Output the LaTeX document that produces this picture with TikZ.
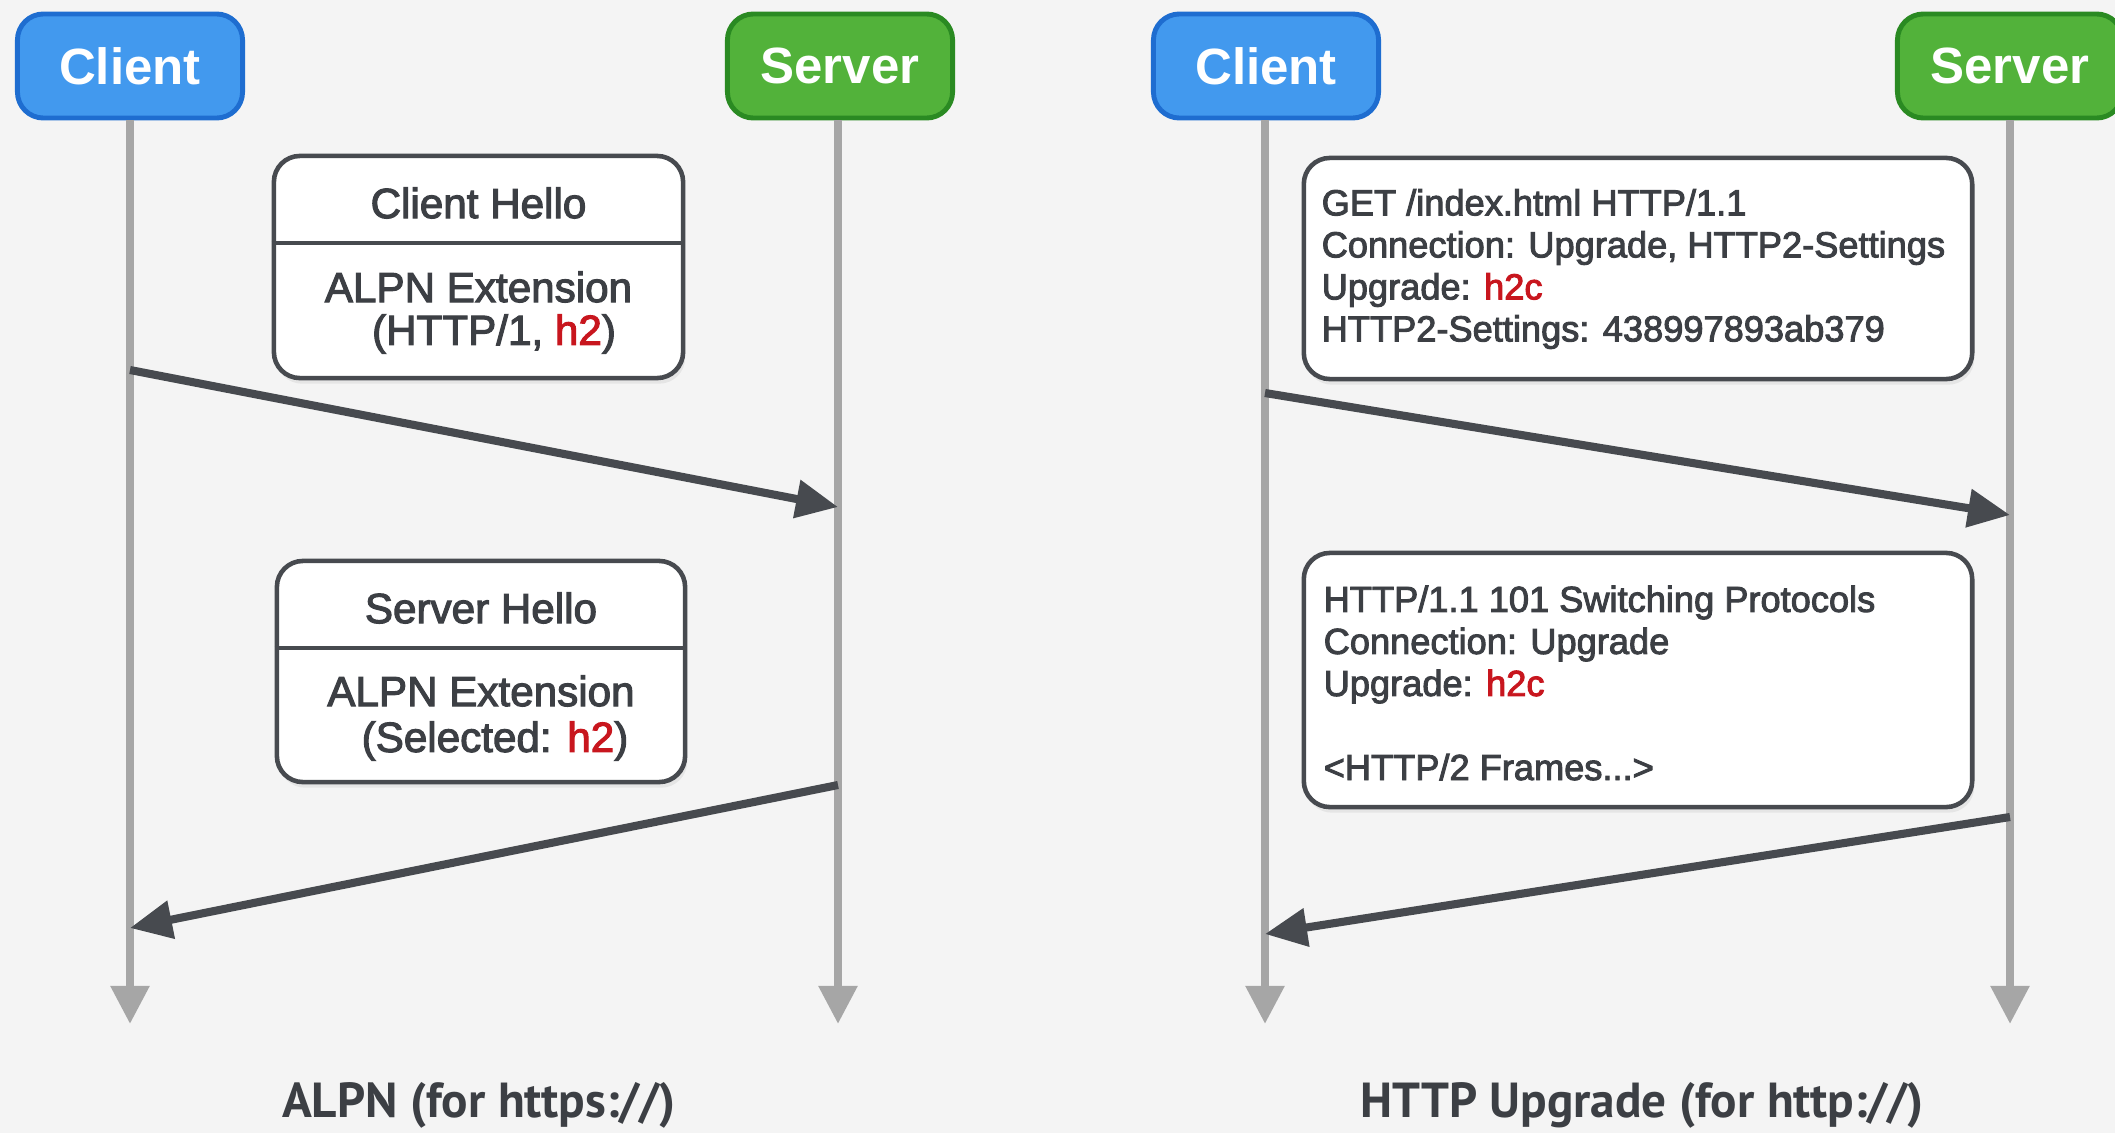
\documentclass[tikz,border=0pt]{standalone}
\usepackage{fontspec}
\setmainfont{Liberation Sans}
\newfontfamily\boxfont[FakeBold=2.6]{Liberation Sans}
\newfontfamily\capfont{PT Sans}
\usetikzlibrary{arrows.meta,shadows}
\definecolor{bg}{HTML}{F4F4F4}
\definecolor{clientfill}{HTML}{4299EE}
\definecolor{clientline}{HTML}{1E6DD0}
\definecolor{serverfill}{HTML}{52B23A}
\definecolor{serverline}{HTML}{2A8A22}
\definecolor{lifegrey}{HTML}{A6A6A6}
\definecolor{msgline}{HTML}{474A4F}
\definecolor{boxtext}{HTML}{3C3F44}
\definecolor{hred}{HTML}{C8161E}
\newcommand\redtxt[1]{\textcolor{hred}{#1}}
\begin{document}
\begin{tikzpicture}[x=0.01cm,y=-0.01cm,
  actor/.style={rounded corners=0.26cm, line width=1.4pt, minimum width=2.25cm,
    minimum height=1.04cm, text=white, font=\fontsize{14.5}{16}\selectfont\bfseries},
  clientbox/.style={actor, fill=clientfill, draw=clientline},
  serverbox/.style={actor, fill=serverfill, draw=serverline},
  life/.style={draw=lifegrey, line width=2.4pt, -{Triangle[length=0.38cm,width=0.37cm]}},
  msg/.style={draw=msgline, line width=2.3pt, -{Triangle[length=0.42cm,width=0.37cm]}},
  msgbox/.style={draw=msgline, line width=1.3pt, fill=white, rounded corners=0.26cm,
    drop shadow={opacity=0.12, shadow xshift=0.6pt, shadow yshift=-1.6pt}},
  lefttext/.style={text=boxtext, font=\boxfont\fontsize{12}{13.4}\selectfont, inner sep=0pt},
  righttext/.style={text=boxtext, font=\boxfont\fontsize{10.3}{11.95}\selectfont, inner sep=0pt, align=left},
  caption/.style={text=boxtext, font=\capfont\bfseries\fontsize{14}{17}\selectfont, inner sep=0pt}
]
\fill[bg] (0,0) rectangle (2115,1133);
\clip (0,0) rectangle (2115,1133);

% ---------- Left diagram: ALPN ----------
\node[clientbox] (lc) at (130,66) {Client};
\node[serverbox] (ls) at (840,66) {Server};
\coordinate (lcend) at (130,1024);
\coordinate (lsend) at (838,1024);
\draw[life] (lc.south) -- (lcend);
\draw[life] (ls.south -| lsend) -- (lsend);

\node[msgbox, minimum width=4.09cm, minimum height=2.22cm] (chbox) at (478.5,267) {};
\draw[msgline, line width=1.3pt] (chbox.west |- 0,243) -- (chbox.east |- 0,243);
\node[lefttext] (ch1) at (478.5,203) {Client Hello};
\node[lefttext] (ch2) at (478.5,287) {ALPN Extension};
\node[lefttext] (ch3) at (494,334) {(HTTP/1, \redtxt{h2})};

\coordinate (m1a) at (130,370);
\coordinate (m1b) at (838,507);
\draw[msg] (m1a) -- (m1b);

\node[msgbox, minimum width=4.08cm, minimum height=2.21cm] (shbox) at (481,671.5) {};
\draw[msgline, line width=1.3pt] (shbox.west |- 0,648) -- (shbox.east |- 0,648);
\node[lefttext] (sh1) at (481,608) {Server Hello};
\node[lefttext] (sh2) at (481,691) {ALPN Extension};
\node[lefttext] (sh3) at (495,741) {(Selected: \redtxt{h2})};

\coordinate (m2a) at (838,785);
\coordinate (m2b) at (130,928);
\draw[msg] (m2a) -- (m2b);

\node[caption, anchor=base] (cap1) at (479,1117) {ALPN (for https://)};

% ---------- Right diagram: HTTP Upgrade ----------
\node[clientbox] (rc) at (1266,66) {Client};
\node[serverbox] (rs) at (2010,66) {Server};
\coordinate (rcend) at (1265,1024);
\coordinate (rsend) at (2010,1024);
\draw[life] (rc.south -| rcend) -- (rcend);
\draw[life] (rs.south) -- (rsend);

\node[msgbox, minimum width=6.68cm, minimum height=2.21cm] (getbox) at (1638,268.5) {};
\node[righttext, anchor=west] (gettxt) at (1321,269) {GET /index.html HTTP/1.1\\
Connection: Upgrade, HTTP2-Settings\\
Upgrade: \redtxt{h2c}\\
HTTP2-Settings: 438997893ab379};

\coordinate (m3a) at (1265,393);
\coordinate (m3b) at (2010,515);
\draw[msg] (m3a) -- (m3b);

\node[msgbox, minimum width=6.68cm, minimum height=2.54cm] (swbox) at (1638,680) {};
\node[righttext, anchor=west] (swtxt) at (1323,683) {HTTP/1.1 101 Switching Protocols\\
Connection: Upgrade\\
Upgrade: \redtxt{h2c}\\
\strut\\
<HTTP/2 Frames...>};

\coordinate (m4a) at (2010,817);
\coordinate (m4b) at (1265,934);
\draw[msg] (m4a) -- (m4b);

\node[caption, anchor=base] (cap2) at (1642,1117) {HTTP Upgrade (for http://)};
\end{tikzpicture}
\end{document}
